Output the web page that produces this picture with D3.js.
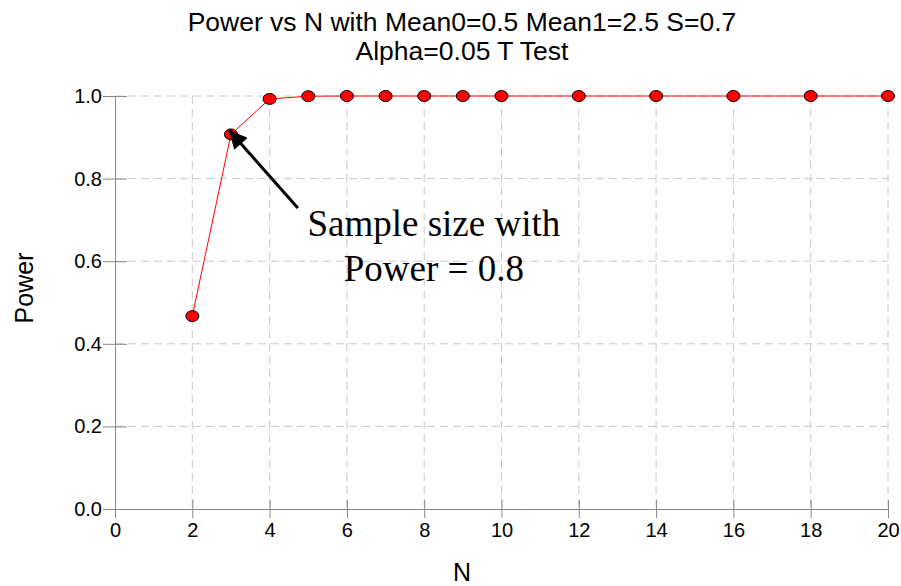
<!DOCTYPE html>
<html>
<head>
<meta charset="utf-8">
<script src="https://cdn.jsdelivr.net/npm/d3@7"></script>
<style>
  body { margin: 0; background: #fff; }
  svg text { font-family: Arial, "Liberation Sans", sans-serif; }
  svg text.note { font-family: "Liberation Serif", "Times New Roman", serif; }
</style>
</head>
<body>
<svg id="chart" width="901" height="586"></svg>
<script>
// data
const sampleN = [2, 3, 4, 5, 6, 7, 8, 9, 10, 12, 14, 16, 18, 20];
const power = [0.467, 0.907, 0.993, 0.9995, 1.0, 1.0, 1.0, 1.0, 1.0, 1.0, 1.0, 1.0, 1.0, 1.0];
const xTicks = [0, 2, 4, 6, 8, 10, 12, 14, 16, 18, 20];
const yTicks = [0.0, 0.2, 0.4, 0.6, 0.8, 1.0];
const titleLines = ["Power vs N with Mean0=0.5 Mean1=2.5 S=0.7", "Alpha=0.05 T Test"];
const noteLines = ["Sample size with", "Power = 0.8"];

let svg = d3.select("#chart");
const margin = {top: 96, right: 13, bottom: 77, left: 115};
const innerWidth = +svg.attr("width") - margin.left - margin.right;
const innerHeight = +svg.attr("height") - margin.top - margin.bottom;

const xScale = d3.scaleLinear().domain([0, 20]).range([0, innerWidth]);
const yScale = d3.scaleLinear().domain([0, 1]).range([innerHeight, 0]);

const g = svg.append("g")
    .attr("transform", `translate(${margin.left},${margin.top})`);

// grid
g.append("g")
    .selectAll("line").data(xTicks.slice(1))
    .enter().append("line")
        .attr("x1", d => xScale(d)).attr("x2", d => xScale(d))
        .attr("y1", 0).attr("y2", innerHeight)
        .attr("stroke", "#c8c8c8").attr("stroke-dasharray", "8,5");
g.append("g")
    .selectAll("line").data(yTicks.slice(1))
    .enter().append("line")
        .attr("x1", 0).attr("x2", innerWidth)
        .attr("y1", d => yScale(d)).attr("y2", d => yScale(d))
        .attr("stroke", "#c8c8c8").attr("stroke-dasharray", "8,5");

// axes
const xAxis = d3.axisBottom(xScale).tickValues(xTicks).tickFormat(d3.format("d"))
    .tickSizeInner(9).tickSizeOuter(0).tickPadding(5);
const gx = g.append("g").attr("transform", `translate(0,${innerHeight})`).call(xAxis);
gx.selectAll(".tick line").attr("y1", -9);

const yAxis = d3.axisLeft(yScale).tickValues(yTicks).tickFormat(d3.format(".1f"))
    .tickSizeInner(12).tickSizeOuter(0).tickPadding(1);
const gy = g.append("g").call(yAxis);
gy.selectAll(".tick line").attr("x1", 12);

[gx, gy].forEach(ax => {
    ax.select(".domain").attr("stroke", "#888");
    ax.selectAll(".tick line").attr("stroke", "#888");
    ax.selectAll(".tick text").attr("font-size", "20px").attr("fill", "#000");
});

// line + markers
const line = d3.line().x((d, i) => xScale(sampleN[i])).y(d => yScale(d));
g.append("path").datum(power)
    .attr("d", line).attr("fill", "none").attr("stroke", "red").attr("stroke-width", 1);

g.selectAll("ellipse").data(power)
    .enter().append("ellipse")
        .attr("cx", (d, i) => xScale(sampleN[i]))
        .attr("cy", d => yScale(d))
        .attr("rx", 6.5).attr("ry", 5.5)
        .attr("fill", "red").attr("stroke", "#000").attr("stroke-width", 1);

// annotation arrow
svg.append("defs").append("marker")
    .attr("id", "head").attr("viewBox", "0 0 10 10")
    .attr("refX", 10).attr("refY", 5)
    .attr("markerWidth", 7).attr("markerHeight", 6)
    .attr("markerUnits", "strokeWidth").attr("orient", "auto")
  .append("path").attr("d", "M0,0 L10,5 L0,10 z").attr("fill", "#000");

g.append("line")
    .attr("x1", xScale(4.73)).attr("y1", yScale(0.729))
    .attr("x2", xScale(2.95)).attr("y2", yScale(0.917))
    .attr("stroke", "#000").attr("stroke-width", 3)
    .attr("marker-end", "url(#head)");

g.append("g").selectAll("text").data(noteLines)
    .enter().append("text")
        .attr("class", "note")
        .attr("x", xScale(8.25))
        .attr("y", (d, i) => yScale(0.66) + i * 45)
        .attr("text-anchor", "middle")
        .attr("font-size", "37px")
        .text(d => d);

// title
svg.append("g").selectAll("text").data(titleLines)
    .enter().append("text")
        .attr("x", 462).attr("y", (d, i) => 31 + i * 29)
        .attr("text-anchor", "middle").attr("font-size", "26.5px")
        .text(d => d);

// axis labels
svg.append("text").attr("x", 462).attr("y", 581)
    .attr("text-anchor", "middle").attr("font-size", "25px").text("N");
svg.append("text")
    .attr("transform", "translate(33,288) rotate(-90)")
    .attr("text-anchor", "middle").attr("font-size", "25px").text("Power");
</script>
</body>
</html>
